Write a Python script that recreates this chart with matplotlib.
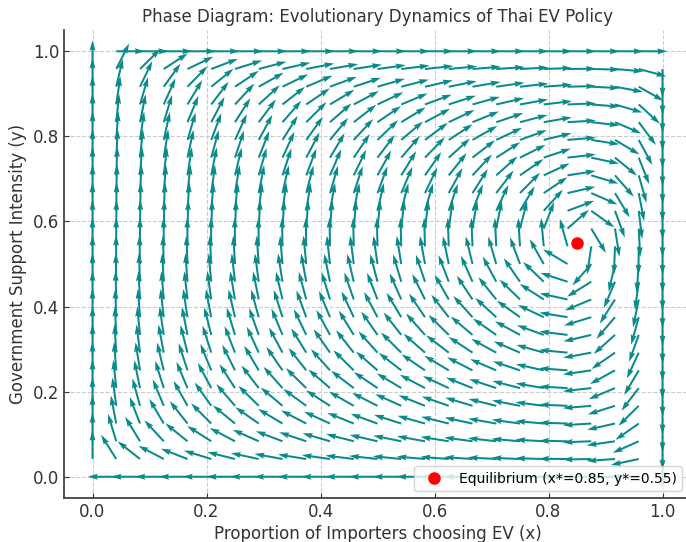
import numpy as np
import matplotlib
matplotlib.use('Agg')
from matplotlib import pyplot as plt

# equilibrium of the replicator dynamics
x_star = 0.85
y_star = 0.55

# sample points of the phase field (25 x 25)
x_vals = np.linspace(0, 1, 25)
y_vals = np.linspace(0, 1, 25)

X, Y = np.meshgrid(x_vals, y_vals)
dX = X * (1 - X) * (Y - y_star)
dY = Y * (1 - Y) * (x_star - X)

mag = np.sqrt(dX**2 + dY**2)
with np.errstate(invalid='ignore', divide='ignore'):
    U = dX / mag
    V = dY / mag

fig = plt.figure(figsize=(6.86, 5.42), dpi=100)
ax = fig.add_axes([64/686, 44/542, 627/686, 468/542])

ax.quiver(X, Y, U, V, color='#0a8a8a', scale=22, width=0.0032)
ax.plot(x_star, y_star, 'o', color='red', markersize=8,
        label=f'Equilibrium (x*={x_star}, y*={y_star})')

ax.set_xlim(-0.05, 1.05)
ax.set_ylim(-0.05, 1.05)
ax.set_title('Phase Diagram: Evolutionary Dynamics of Thai EV Policy', color='#333333', fontsize=12)
ax.set_xlabel('Proportion of Importers choosing EV (x)', fontsize=12, color='#333333', labelpad=3)
ax.set_ylabel('Government Support Intensity (y)', fontsize=12, color='#333333')
ax.grid(True, ls='--', color='#cccccc', lw=0.8)
ax.set_axisbelow(True)
for s in ['top', 'right']:
    ax.spines[s].set_visible(False)
for s in ['left', 'bottom']:
    ax.spines[s].set_color('#444444')
    ax.spines[s].set_linewidth(1.3)
ax.tick_params(labelsize=12, colors='#333333', direction='in')
ax.legend(loc='lower right', fontsize=10, bbox_to_anchor=(0.997, 0.0))

fig.savefig('out.png', dpi=100)
